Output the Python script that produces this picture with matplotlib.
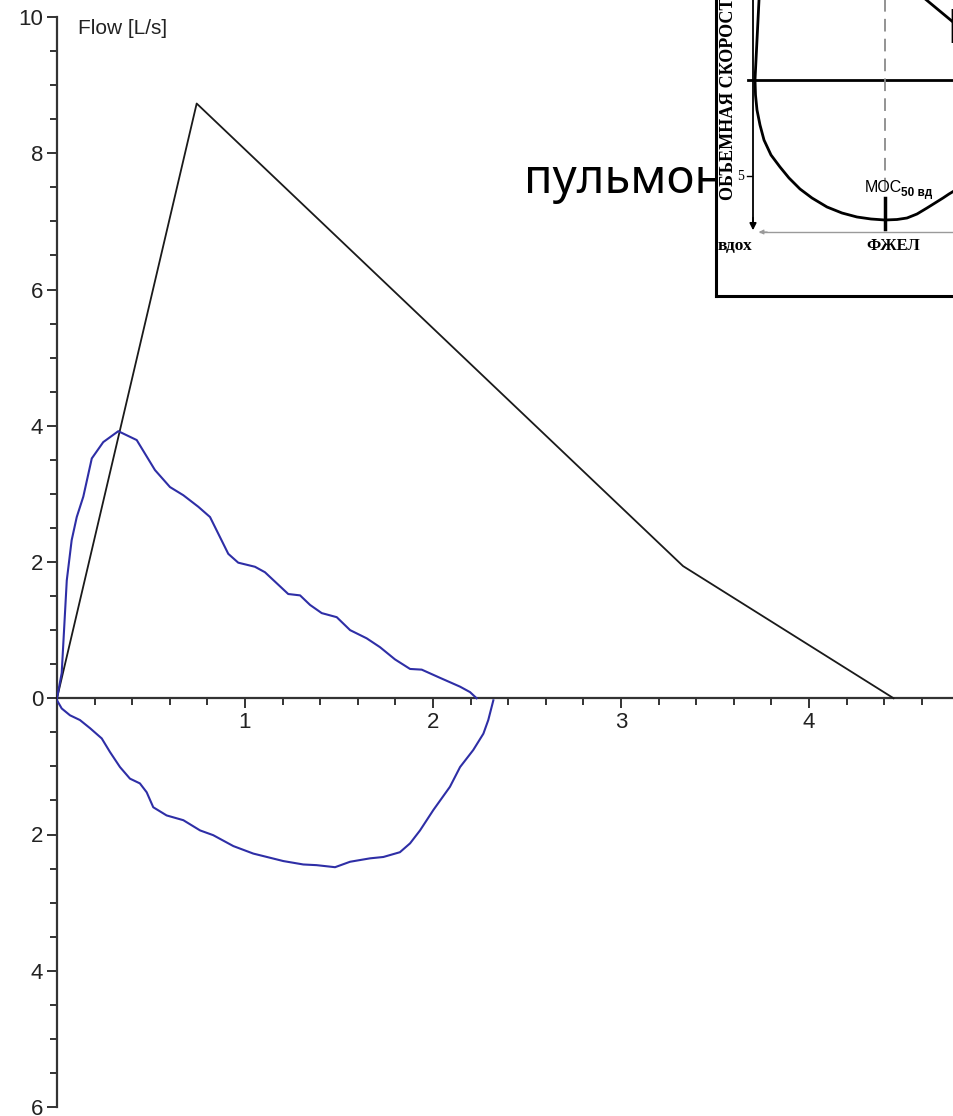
import matplotlib
matplotlib.use("Agg")
import matplotlib.pyplot as plt
from matplotlib.ticker import MultipleLocator, FuncFormatter

# ---------------- data ----------------
# predicted envelope (black)
pred_volume = [0.0, 0.743, 3.33, 4.45]
pred_flow = [0.0, 8.73, 1.94, 0.0]

# expiratory limb (blue, positive flow)
exp_volume = [0.0, 0.025, 0.052, 0.078, 0.105, 0.14, 0.185, 0.246, 0.326, 0.424,
              0.521, 0.601, 0.672, 0.752, 0.814, 0.911, 0.964, 1.053, 1.106, 1.230,
              1.293, 1.346, 1.408, 1.488, 1.559, 1.647, 1.718, 1.798, 1.878, 1.940,
              2.037, 2.144, 2.197, 2.232]
exp_flow = [0.0, 0.37, 1.73, 2.32, 2.66, 2.96, 3.52, 3.76, 3.92, 3.79,
            3.35, 3.10, 2.98, 2.81, 2.66, 2.12, 1.99, 1.93, 1.85, 1.53,
            1.51, 1.37, 1.25, 1.19, 1.00, 0.88, 0.75, 0.57, 0.43, 0.42,
            0.30, 0.17, 0.09, 0.0]

# inspiratory limb (blue, negative flow)
insp_volume = [2.321, 2.294, 2.268, 2.214, 2.144, 2.090, 2.002, 1.931, 1.878, 1.824,
               1.736, 1.665, 1.559, 1.479, 1.381, 1.310, 1.204, 1.044, 0.938, 0.831,
               0.761, 0.672, 0.583, 0.512, 0.477, 0.441, 0.388, 0.335, 0.282, 0.238,
               0.176, 0.122, 0.069, 0.025, 0.0]
insp_flow = [-0.03, -0.32, -0.52, -0.76, -1.01, -1.30, -1.64, -1.94, -2.13, -2.26,
             -2.33, -2.35, -2.40, -2.48, -2.45, -2.44, -2.39, -2.28, -2.17, -2.01,
             -1.94, -1.79, -1.72, -1.60, -1.38, -1.25, -1.18, -1.01, -0.79, -0.59,
             -0.44, -0.32, -0.25, -0.15, -0.03]

y_axis_label = "Flow [L/s]"

# pasted slide picture (inset) - curve traced in its own pixel frame
inset_curve_x = [764, 761, 759, 758, 757, 756, 755, 755.5, 757, 760, 764, 771, 780, 789,
                 800, 812, 827, 842, 857, 871, 885, 897, 907, 917, 927, 935, 943, 949,
                 954, 970]
inset_curve_y = [-40, -15, 0, 20, 40, 60, 80, 95, 110, 125, 140, 155, 167, 178,
                 189, 198, 207, 213, 217, 219, 220, 219.5, 218, 214, 208, 203, 198, 194,
                 191, 180]
inset_diag_x = [912, 953]
inset_diag_y = [-12, 22]
slide_word = "пульмон"

W, H = 954, 1116
fig = plt.figure(figsize=(W / 100, H / 100), dpi=100)
fig.patch.set_facecolor("white")

# ---------------- main axes ----------------
ax = fig.add_axes([57 / W, 9 / H, 1 - 57 / W, 1090 / H])
ax.set_xlim(0, (W - 57) / 188.0)
ax.set_ylim(-6, 10)
ax.set_facecolor("white")
for s in ("top", "right"):
    ax.spines[s].set_visible(False)
ax.spines["bottom"].set_position(("data", 0))
for s in ("left", "bottom"):
    ax.spines[s].set_linewidth(1.6)
    ax.spines[s].set_color("#333333")

ax.xaxis.set_major_locator(MultipleLocator(1))
ax.xaxis.set_minor_locator(MultipleLocator(0.2))
ax.yaxis.set_major_locator(MultipleLocator(2))
ax.yaxis.set_minor_locator(MultipleLocator(0.5))
ax.xaxis.set_major_formatter(FuncFormatter(lambda v, p: "" if abs(v) < 1e-9 else f"{v:g}"))
ax.yaxis.set_major_formatter(FuncFormatter(lambda v, p: f"{abs(v):g}"))
ax.tick_params(axis="both", which="major", length=7, width=1.4, color="#333333",
               labelsize=16, labelcolor="#222222", direction="out")
ax.tick_params(axis="both", which="minor", length=5, width=1.4, color="#333333", direction="out")
ax.tick_params(axis="x", pad=3)
ax.tick_params(axis="y", pad=3)
for lab in ax.get_xticklabels() + ax.get_yticklabels():
    lab.set_family("Liberation Sans")

ax.plot(pred_volume, pred_flow, color="#1a1a1a", lw=1.3, zorder=3, clip_on=False)
ax.plot(exp_volume, exp_flow, color="#2e2ea6", lw=1.5, zorder=4)
ax.plot(insp_volume, insp_flow, color="#2e2ea6", lw=1.5, zorder=4)

fig.text(78 / W, 1 - 19 / H, y_axis_label, fontsize=15, family="Liberation Sans",
         color="#222222", va="top", ha="left")

# big slide text partially hidden behind the pasted picture
fig.text(524 / W, 1 - 193 / H, slide_word, fontsize=34, family="Noto Sans",
         color="black", va="baseline", ha="left", zorder=1)

# ---------------- inset picture ----------------
ax2 = fig.add_axes([716 / W, 1 - 296 / H, (1300 - 716) / W, (296 + 100) / H], zorder=5)
ax2.set_xlim(716, 1300)
ax2.set_ylim(296, -100)
ax2.set_facecolor("white")
ax2.set_xticks([])
ax2.set_yticks([])
for s in ("top", "right"):
    ax2.spines[s].set_visible(False)
for s in ("left", "bottom"):
    ax2.spines[s].set_linewidth(2.2)
    ax2.spines[s].set_color("black")

# vertical arrow (flow axis)
ax2.plot([753, 753], [-100, 226], color="black", lw=1.3)
ax2.annotate("", xy=(753, 233), xytext=(753, 215),
             arrowprops=dict(arrowstyle="-|>", color="black", lw=1.2, mutation_scale=10))
# zero line
ax2.plot([748, 1300], [80, 80], color="black", lw=2.0)
# volume axis (grey)
ax2.plot([760, 1300], [232, 232], color="#9a9a9a", lw=1.0)
ax2.annotate("", xy=(756, 232), xytext=(770, 232),
             arrowprops=dict(arrowstyle="-|>", color="#9a9a9a", lw=0.8, mutation_scale=7))
# dashed guide
ax2.plot([885, 885], [-100, 206], color="#8a8a8a", lw=1.3, ls=(0, (7, 4)))
# loop curve
ax2.plot(inset_curve_x, inset_curve_y, color="black", lw=2.0, solid_joinstyle="round")
ax2.plot(inset_diag_x, inset_diag_y, color="black", lw=2.0)
# MOC tick
ax2.plot([885, 885], [198, 229], color="black", lw=2.5)
# "5" tick
ax2.plot([747, 752], [176, 176], color="black", lw=1.0)
ax2.text(744, 176, "5", fontsize=10, family="Liberation Serif", ha="right", va="center")

ax2.text(733, 200, "ОБЪЕМНАЯ СКОРОСТЬ", rotation=90, rotation_mode="anchor",
         fontsize=13, family="Liberation Serif", weight="bold", ha="left", va="baseline")
ax2.text(718, 250, "вдох", fontsize=12.5, family="Liberation Serif", weight="bold",
         ha="left", va="baseline")
ax2.text(866, 250, "ФЖЕЛ", fontsize=12, family="Liberation Serif", weight="bold",
         ha="left", va="baseline")
ax2.text(865, 192, "МОС", fontsize=11.5, family="Liberation Sans", ha="left", va="baseline")
ax2.text(901, 196, "50 вд", fontsize=8.5, family="Liberation Sans", weight="bold",
         ha="left", va="baseline")

# big letter over the picture at top-right (cut by the figure edge)
fig.text(946 / W, 1 - 43 / H, "П", fontsize=34, family="Noto Sans",
         color="black", va="baseline", ha="left", zorder=10)

fig.savefig("out.png", dpi=100, facecolor="white")
